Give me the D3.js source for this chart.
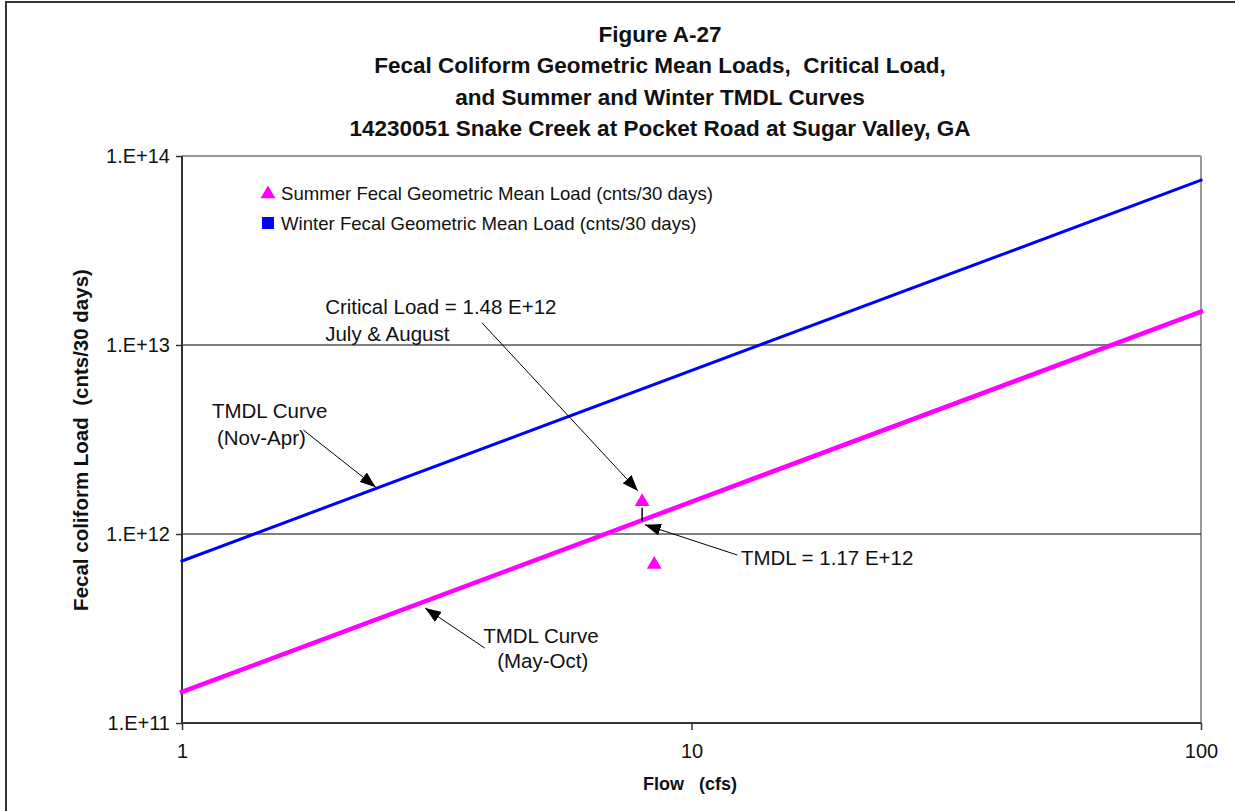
<!DOCTYPE html>
<html>
<head>
<meta charset="utf-8">
<script src="https://cdn.jsdelivr.net/npm/d3@7"></script>
<style>
  html, body { margin: 0; padding: 0; background: #fff; }
  svg text { font-family: "Liberation Sans", Arial, sans-serif; fill: #111; }
</style>
</head>
<body>
<svg id="chart" width="1235" height="811"></svg>
<script>
// ---- data ----
const titleLines = [
  "Figure A-27",
  "Fecal Coliform Geometric Mean Loads,  Critical Load,",
  "and Summer and Winter TMDL Curves",
  "14230051 Snake Creek at Pocket Road at Sugar Valley, GA"
];
const curveFlows = [1, 100];                 // cfs
const winterTmdl = [7.2e11, 7.45e13];        // Nov-Apr TMDL curve (cnts/30 days)
const summerTmdl = [1.46e11, 1.5e13];        // May-Oct TMDL curve (cnts/30 days)
const summerFlows = [8.0, 8.45];             // summer geometric mean points
const summerLoads = [1.48e12, 6.9e11];
const winterFlows = [];                      // no winter samples plotted
const winterLoads = [];
const criticalFlow = 8.0;
const criticalLoad = 1.48e12;
const criticalTmdl = 1.17e12;
const xTickValues = [1, 10, 100];
const xTickLabels = ["1", "10", "100"];
const yTickValues = [1e11, 1e12, 1e13, 1e14];
const yTickLabels = ["1.E+11", "1.E+12", "1.E+13", "1.E+14"];
const gridValues = [1e12, 1e13];
const legendLabels = [
  "Summer Fecal Geometric Mean Load (cnts/30 days)",
  "Winter Fecal Geometric Mean Load (cnts/30 days)"
];

// ---- layout ----
const svg = d3.select("#chart");
const plot = { left: 182, right: 1201, top: 156, bottom: 723 };
const x = d3.scaleLog().domain([1, 100]).range([plot.left, plot.right]);
const y = d3.scaleLog().domain([1e11, 1e14]).range([plot.bottom, plot.top]);
const magenta = "#ff00ff", blue = "#0000ff";

// outer frame
svg.append("rect").attr("x", 6).attr("y", 2).attr("width", 1260).attr("height", 840)
  .attr("fill", "none").attr("stroke", "#333").attr("stroke-width", 2);

// title
svg.append("g").selectAll("text").data(titleLines).join("text")
  .attr("x", 660).attr("y", (d, i) => 42 + i * 31.3)
  .attr("text-anchor", "middle").attr("font-weight", "bold").attr("font-size", 22.5)
  .attr("xml:space", "preserve")
  .text(d => d);

// plot border: top/right light, left/bottom axes dark
svg.append("line").attr("x1", plot.left).attr("x2", plot.right).attr("y1", plot.top).attr("y2", plot.top)
  .attr("stroke", "#999").attr("stroke-width", 2);
svg.append("line").attr("x1", plot.right).attr("x2", plot.right).attr("y1", plot.top).attr("y2", plot.bottom)
  .attr("stroke", "#999").attr("stroke-width", 2);

// gridlines
svg.append("g").selectAll("line").data(gridValues).join("line")
  .attr("x1", plot.left).attr("x2", plot.right)
  .attr("y1", d => y(d)).attr("y2", d => y(d))
  .attr("stroke", "#000").attr("stroke-width", 1.2);

// axes
const yAxis = d3.axisLeft(y).tickValues(yTickValues)
  .tickFormat((d, i) => yTickLabels[i]).tickSize(6).tickPadding(6);
const gy = svg.append("g").attr("transform", `translate(${plot.left},0)`).call(yAxis);
const xAxis = d3.axisBottom(x).tickValues(xTickValues)
  .tickFormat((d, i) => xTickLabels[i]).tickSize(7).tickPadding(14);
const gx = svg.append("g").attr("transform", `translate(0,${plot.bottom})`).call(xAxis);
[gx, gy].forEach(g => {
  g.select(".domain").attr("stroke", "#333").attr("stroke-width", 2);
  g.selectAll(".tick line").attr("stroke", "#333").attr("stroke-width", 1.5);
  g.selectAll(".tick text").attr("font-family", "Liberation Sans, Arial, sans-serif")
    .attr("font-size", 20).attr("fill", "#111");
});
gx.select(".domain").attr("d", `M${plot.left},0H${plot.right}`);
gy.select(".domain").attr("d", `M0,${plot.top}V${plot.bottom}`);

// axis titles
svg.append("text").attr("x", 690).attr("y", 790).attr("text-anchor", "middle")
  .attr("font-weight", "bold").attr("font-size", 18).attr("xml:space", "preserve")
  .text("Flow   (cfs)");
svg.append("text").attr("transform", "translate(88,440) rotate(-90)").attr("text-anchor", "middle")
  .attr("font-weight", "bold").attr("font-size", 20.5).attr("xml:space", "preserve")
  .text("Fecal coliform Load  (cnts/30 days)");

// TMDL curves
const line = d3.line().x(d => x(d[0])).y(d => y(d[1]));
svg.append("path").datum(curveFlows.map((f, i) => [f, winterTmdl[i]]))
  .attr("d", line).attr("fill", "none").attr("stroke", blue).attr("stroke-width", 3)
  .attr("stroke-linecap", "square");
svg.append("path").datum(curveFlows.map((f, i) => [f, summerTmdl[i]]))
  .attr("d", line).attr("fill", "none").attr("stroke", magenta).attr("stroke-width", 4.5)
  .attr("stroke-linecap", "square");

// sample points
const tri = d3.symbol().type(d3.symbolTriangle).size(95);
svg.append("g").selectAll("path").data(summerFlows.map((f, i) => [f, summerLoads[i]])).join("path")
  .attr("d", tri).attr("fill", magenta)
  .attr("transform", d => `translate(${x(d[0])},${y(d[1])})`);
svg.append("g").selectAll("rect").data(winterFlows.map((f, i) => [f, winterLoads[i]])).join("rect")
  .attr("x", d => x(d[0]) - 6).attr("y", d => y(d[1]) - 6).attr("width", 12).attr("height", 12)
  .attr("fill", blue);

// legend
const legend = svg.append("g");
legend.append("path").attr("d", tri).attr("fill", magenta).attr("transform", "translate(268,194)");
legend.append("rect").attr("x", 262).attr("y", 217).attr("width", 12).attr("height", 12).attr("fill", blue);
legend.selectAll("text").data(legendLabels).join("text")
  .attr("x", 281).attr("y", (d, i) => 199.5 + i * 30).attr("font-size", 18.6).text(d => d);

// arrow annotations
const defs = svg.append("defs");
defs.append("marker").attr("id", "arrow").attr("viewBox", "0 0 16 12")
  .attr("refX", 16).attr("refY", 6).attr("markerWidth", 16).attr("markerHeight", 12)
  .attr("markerUnits", "userSpaceOnUse").attr("orient", "auto")
  .append("path").attr("d", "M0,0L16,6L0,12Z").attr("fill", "#000");

const annotations = [
  { tail: [3.88, 1.31e13], tip: [7.85, 1.69e12] },   // critical load
  { tail: [1.73, 3.55e12], tip: [2.40, 1.77e12] },   // winter curve
  { tail: [3.93, 2.49e11], tip: [3.0, 4.06e11] },    // summer curve
  { tail: [12.3, 7.74e11], tip: [8.1, 1.12e12] }     // TMDL value
];
svg.append("g").selectAll("line").data(annotations).join("line")
  .attr("x1", d => x(d.tail[0])).attr("y1", d => y(d.tail[1]))
  .attr("x2", d => x(d.tip[0])).attr("y2", d => y(d.tip[1]))
  .attr("stroke", "#000").attr("stroke-width", 1).attr("marker-end", "url(#arrow)");

// critical load down to the TMDL value
svg.append("line")
  .attr("x1", x(criticalFlow)).attr("x2", x(criticalFlow))
  .attr("y1", y(criticalLoad) + 6).attr("y2", y(criticalTmdl))
  .attr("stroke", "#000").attr("stroke-width", 1.5);

// annotation text
const notes = [
  { at: [1.91, 1.46e13], lines: ["Critical Load = 1.48 E+12", "July & August"], dx: [0, 0], dy: 27 },
  { at: [1.145, 4.11e12], lines: ["TMDL Curve", "(Nov-Apr)"], dx: [0, 5], dy: 27 },
  { at: [3.90, 2.65e11], lines: ["TMDL Curve", "(May-Oct)"], dx: [0, 14], dy: 25 },
  { at: [12.5, 6.86e11], lines: ["TMDL = 1.17 E+12"], dx: [0], dy: 0 }
];
notes.forEach(n => {
  const t = svg.append("text").attr("font-size", 20.5);
  n.lines.forEach((s, i) => {
    t.append("tspan").attr("x", x(n.at[0]) + n.dx[i]).attr("y", y(n.at[1]) + i * n.dy).text(s);
  });
});
</script>
</body>
</html>
